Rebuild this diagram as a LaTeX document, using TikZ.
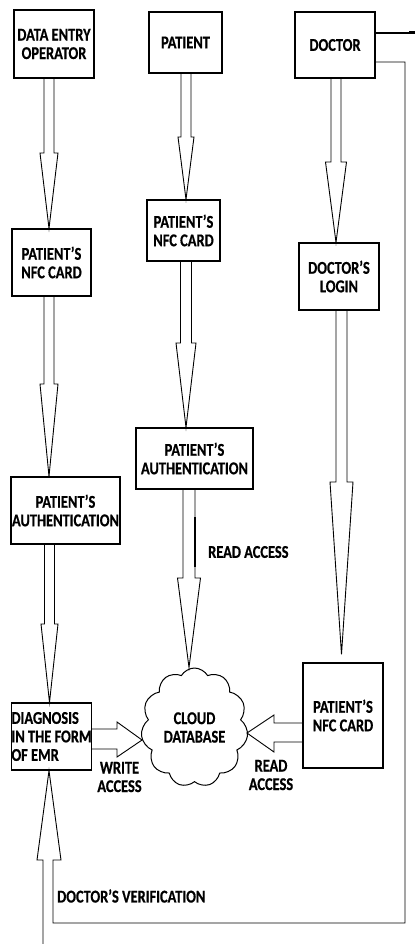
\documentclass[tikz,border=0pt]{standalone}
\usepackage{fontspec}
\setmainfont{Carlito}[FakeStretch=0.8, BoldFeatures={FakeBold=0.6}]
\usetikzlibrary{shapes.symbols}
\newcommand{\fatdn}[6]{%
  \draw[fatarrow] (#3-#5,0 |- #1.south) -- (#3-#5,#4) -- (#3-#6,#4) -- (#3,0 |- #2)
    -- (#3+#6,#4) -- (#3+#5,#4) -- (#3+#5,0 |- #1.south);}
\begin{document}
\begin{tikzpicture}[x=1pt,y=-1pt,
  txt/.style={font=\bfseries\fontsize{18}{18.5}\selectfont},
  box/.style={txt, draw, line width=1.3pt, align=center, inner sep=1pt},
  lbl/.style={txt, inner sep=0pt, align=center},
  fatarrow/.style={draw, line width=0.9pt, line join=miter}]
\useasboundingbox[fill=white] (0,0) rectangle (415,944);
% boxes
\node[box, minimum width=80pt, minimum height=68pt] (deo) at (54,44) {DATA ENTRY\\OPERATOR};
\node[box, minimum width=73pt, minimum height=61pt] (pat) at (185.5,42.5) {PATIENT};
\node[box, minimum width=80pt, minimum height=66pt] (doc) at (335,45) {DOCTOR};
\node[box, minimum width=79pt, minimum height=67pt] (nfcL) at (51.5,262.5) {PATIENT'S\\NFC CARD};
\node[box, minimum width=73pt, minimum height=61pt] (nfcM) at (183.5,230.5) {PATIENT'S\\NFC CARD};
\node[box, minimum width=80pt, minimum height=67pt] (login) at (339,276.5) {DOCTOR'S\\LOGIN};
\node[box, minimum width=117pt, minimum height=61pt] (authM) at (194.5,458.5) {PATIENT'S\\AUTHENTICATION};
\node[box, minimum width=109pt, minimum height=67pt] (authL) at (65.5,510.5) {PATIENT'S\\AUTHENTICATION};
\node[box, align=left, inner xsep=0pt, minimum width=79pt, minimum height=67pt] (emr) at (51.5,736.5) {DIAGNOSIS\\IN THE FORM\\OF EMR};
\node[box, minimum width=80pt, minimum height=105pt] (nfcR) at (343,715.5) {PATIENT'S\\NFC CARD};
\node[txt, cloud, draw, line width=1pt, cloud puffs=11, cloud puff arc=120, aspect=0.9,
      minimum width=107pt, minimum height=119pt, inner sep=0pt, align=center] (cloud) at (194.5,727.5) {CLOUD\\DATABASE};
\coordinate (nfcRtop) at ([yshift=8pt]nfcR.north);
% labels
\node[lbl, anchor=west] (lblread) at (208,552) {READ ACCESS};
\node[lbl] (lblwrite) at (119.5,777) {WRITE\\ACCESS};
\node[lbl] (lblreadR) at (271,775) {READ\\ACCESS};
\node[lbl, anchor=west] (lblver) at (57,896) {DOCTOR'S VERIFICATION};
% downward hollow arrows
\fatdn{deo}{nfcL.north}{49}{153}{5}{9}
\fatdn{pat}{nfcM.north}{186}{137}{5}{8}
\fatdn{doc}{login.north}{336}{162}{5}{10.5}
\fatdn{nfcL}{authL.north}{49}{384}{5}{9}
\fatdn{nfcM}{authM.north}{186}{343}{5.5}{10}
\fatdn{authL}{emr.north}{49.5}{624}{5}{8.5}
\fatdn{authM}{cloud.north}{189}{578}{6}{11.5}
\fatdn{login}{nfcRtop}{341.5}{482}{5.5}{11.5}
\draw[line width=1.8pt] (195,517) -- (195,567);
% horizontal hollow arrows
\draw[fatarrow] (emr.east |- 0,729) -- (117,729) -- (117,722) -- (cloud.west |- 0,740)
  -- (117,757) -- (117,749) -- (emr.east |- 0,749);
\draw[fatarrow] (nfcR.west |- 0,723) -- (274,723) -- (274,715) -- (cloud.east |- 0,733)
  -- (274,752) -- (274,742) -- (nfcR.west |- 0,742);
% doctor's verification feedback
\coordinate (botend) at (43,944);
\coordinate (topend) at (415,33);
\draw[fatarrow] (botend) -- (43,860) -- (37,860) -- (49,0 |- emr.south) -- (61,860)
  -- (53,860) -- (53,923) -- (405,923) -- (405,62) -- (doc.east |- 0,62);
\draw[line width=1.2pt] (doc.east |- 0,33) -- (topend);
\draw[line width=3pt] (409,33) -- (topend);
\end{tikzpicture}
\end{document}
